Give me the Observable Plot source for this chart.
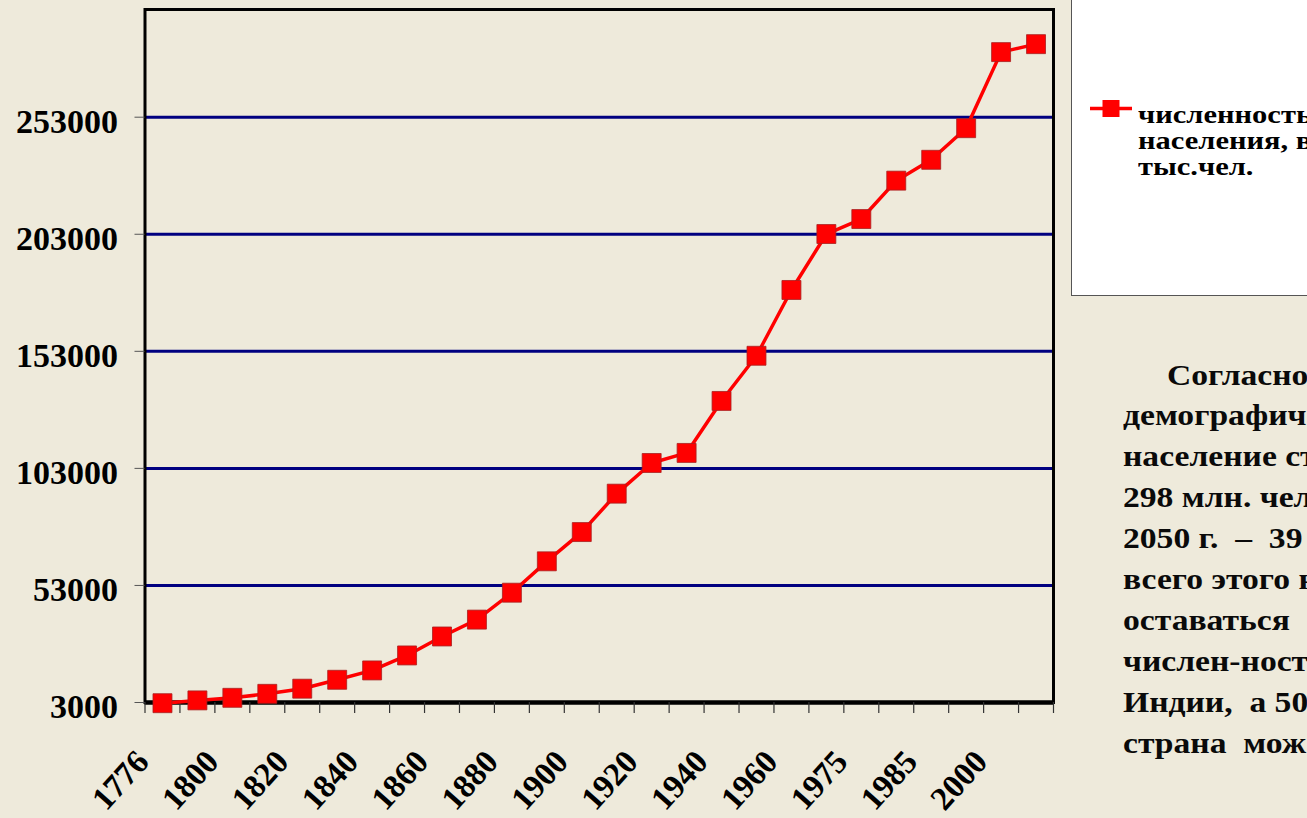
<!DOCTYPE html>
<html><head><meta charset="utf-8">
<script src="https://cdn.jsdelivr.net/npm/d3@7"></script>
<script src="https://cdn.jsdelivr.net/npm/@observablehq/plot@0.6"></script>
<style>
html,body{margin:0;padding:0;width:1307px;height:818px;overflow:hidden;background:#EEEADB;}
#chart{position:absolute;left:0;top:0;}
#legend{position:absolute;left:1071px;top:-2px;width:260px;height:298px;background:#fff;border:1px solid #555;box-sizing:border-box;}
#swatch{position:absolute;left:1089px;top:98px;}
#legendText{position:absolute;left:1138px;top:101.6px;font:bold 25px/26px "Liberation Serif","Times New Roman",serif;color:#000;white-space:pre;transform:scaleX(1.22);transform-origin:0 0;}
#note{position:absolute;left:1123px;top:354.5px;font:bold 30px/40.9px "Liberation Serif","Times New Roman",serif;color:#0a0a0a;white-space:pre;transform:scaleX(1.12);transform-origin:0 0;}
</style></head><body>
<div id="chart"></div>
<div id="legend"></div>
<svg id="swatch" width="46" height="22"></svg>
<div id="legendText"></div>
<div id="note"></div>
<script>
// categories (years); only every other one is labelled on the axis
const years = ["1776","1790","1800","1810","1820","1830","1840","1850","1860","1870","1880","1890","1900","1910","1920","1930","1940","1950","1960","1970","1975","1980","1985","1990","2000","2005"];
// population, thousand people
const population = [2700,3900,5000,6700,8900,12700,16700,23100,31200,38400,49900,63300,75800,92200,105300,109600,131800,151100,179200,203100,209500,225900,234800,248300,280800,284200];
const yTicks = [3000,53000,103000,153000,203000,253000];
const gridValues = [53000,103000,153000,203000,253000];
const legendLabel = ["численность","населения, в","тыс.чел."];
const noteLines = ["Согласно","демографич","население ст","298 млн. чел","2050 г.  –  39","всего этого н","оставаться","числен-ност","Индии,  а 50","страна  мож"];

const data = years.map((year, i) => ({i, year, value: population[i]}));
const labelIdx = years.map((_, i) => i).filter(i => i % 2 === 0);
const bounds = d3.range(years.length + 1).map(i => i - 0.5);

const chart = Plot.plot({
  width: 1307, height: 818,
  marginLeft: 144.5, marginRight: 254, marginTop: 9, marginBottom: 116,
  style: {background: "transparent", fontFamily: "'Liberation Serif','Times New Roman',serif", color: "#000", overflow: "visible"},
  x: {type: "linear", domain: [-0.5, years.length - 0.5], label: null},
  y: {domain: [3000, 299000], label: null},
  marks: [
    Plot.ruleY(gridValues, {stroke: "#000080", strokeWidth: 3}),
    Plot.frame({stroke: "#000", strokeWidth: 3}),
    Plot.ruleY([3000], {stroke: "#000", strokeWidth: 4.5}),
    Plot.axisX({ticks: bounds, tickSize: 11, tickFormat: () => "", stroke: "#333", strokeWidth: 1.2, label: null}),
    Plot.text(labelIdx, {x: d => d, text: d => years[d], frameAnchor: "bottom", rotate: -48, textAnchor: "end", lineAnchor: "middle", dx: -19.9, dy: 53.5, fontSize: 33, fontWeight: "bold", fill: "#000"}),
    Plot.axisY({ticks: yTicks, tickSize: 10, tickFormat: () => "", stroke: "#555", label: null}),
    Plot.text(yTicks, {y: d => d, text: d => String(d), frameAnchor: "left", textAnchor: "end", dx: -27, dy: 5, fontSize: 34, fontWeight: "bold", fill: "#000"}),
    Plot.line(data, {x: "i", y: "value", stroke: "#ff0000", strokeWidth: 3.5}),
    Plot.dot(data, {x: "i", y: "value", symbol: "square", r: 10.7, fill: "#ff0000", stroke: "#a82020", strokeWidth: 0.8})
  ]
});
document.getElementById("chart").appendChild(chart);

// legend swatch
const sw = d3.select("#swatch");
sw.append("line").attr("x1", 1).attr("x2", 43).attr("y1", 10.5).attr("y2", 10.5).attr("stroke", "#ff0000").attr("stroke-width", 3.5);
sw.append("rect").attr("x", 13.5).attr("y", 2).attr("width", 17).attr("height", 17).attr("fill", "#ff0000");
document.getElementById("legendText").textContent = legendLabel.join("\n");

const note = d3.select("#note");
noteLines.forEach((t, k) => note.append("div").style("padding-left", k === 0 ? "39.3px" : "0").text(t));
</script>
</body></html>
